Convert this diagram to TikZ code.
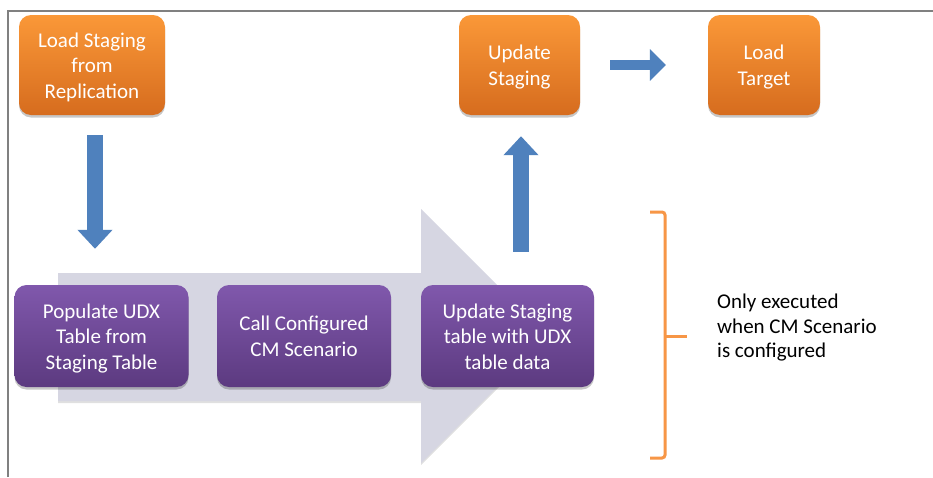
\documentclass[tikz,border=0pt]{standalone}
\usepackage{fontspec}
\setmainfont{Carlito}
\usetikzlibrary{arrows.meta,shadows}
\definecolor{orT}{RGB}{250,152,56}
\definecolor{orB}{RGB}{214,108,30}
\definecolor{puT}{RGB}{128,88,172}
\definecolor{puB}{RGB}{92,58,128}
\definecolor{gArrow}{RGB}{214,214,226}
\definecolor{blueA}{RGB}{79,129,189}
\definecolor{brk}{RGB}{247,150,70}
\definecolor{frameC}{RGB}{128,128,128}
\newcommand{\boxlines}[1]{\raisebox{-2.5pt}[\height][\depth]{\begin{tabular}{@{}c@{}}#1\end{tabular}}}
\begin{document}
\begin{tikzpicture}[x=1pt,y=-1pt,
  box/.style={rounded corners=12pt, text=white, align=center, inner sep=0pt,
    font=\fontsize{21}{25.5}\selectfont,
    drop shadow={shadow xshift=0pt, shadow yshift=-2.5pt, opacity=0.22, fill=black}},
  obox/.style={box, top color=orT, bottom color=orB, minimum height=100pt},
  pbox/.style={box, top color=puT, bottom color=puB, minimum height=102pt, minimum width=174pt},
  bluearr/.style={draw=blueA, line width=16pt, -{Triangle[length=19pt,width=34pt]}},
  bluearrh/.style={draw=blueA, line width=10pt, -{Triangle[length=16pt,width=31pt]}},
  brace/.style={draw=brk, line width=3pt, rounded corners=3pt}]
\useasboundingbox (0,0) rectangle (933,477);
\fill[white] (0,0) rectangle (933,477);
\draw[frameC, line width=1.5pt] (8,477) -- (8,11) -- (933,11);

% big gray process arrow
\fill[gArrow, drop shadow={shadow xshift=0pt, shadow yshift=-2pt, opacity=0.12, fill=black}]
  (58,273) -- (421,273) -- (421,209) -- (548,336) -- (421,463) -- (421,401) -- (58,401) -- cycle;

% orange boxes
\node[obox, minimum width=146pt] (ls) at (92,65) {\boxlines{Load Staging\\from\\Replication}};
\node[obox, minimum width=121pt] (us) at (519.5,65) {\boxlines{Update\\Staging}};
\node[obox, minimum width=112pt] (lt) at (764,65) {\boxlines{Load\\Target}};

% purple boxes
\node[pbox] (pop) at (101.5,336) {\boxlines{Populate UDX\\Table from\\Staging Table}};
\node[pbox] (call) at (304,336) {\boxlines{Call Configured\\CM Scenario}};
\node[pbox, minimum width=173pt] (upd) at (507.5,336) {\boxlines{Update Staging\\table with UDX\\table data}};

% blue arrows
\coordinate (d1) at ([xshift=3pt,yshift=-20pt]ls.south);
\coordinate (d2) at ([yshift=36pt]pop.north);
\draw[bluearr] (d1) -- (d1 |- d2);
\coordinate (u1) at ([xshift=13.5pt,yshift=33pt]upd.north);
\coordinate (u2) at ([yshift=-21pt]us.south);
\draw[bluearr] (u1) -- (u1 |- u2);
\draw[bluearrh] ([xshift=30pt]us.east) -- ([xshift=-42pt]lt.west);

% bracket
\draw[brace] (650,212) -- (665,212) -- (665,458) -- (650,458);
\draw[draw=brk, line width=3pt] (665,336) -- (687,336);

\node[anchor=west, align=left, inner sep=0pt, text=black,
  font=\fontsize{21}{24.5}\selectfont] (note) at (717,328)
  {Only executed\\when CM Scenario\\is configured};
\end{tikzpicture}
\end{document}
